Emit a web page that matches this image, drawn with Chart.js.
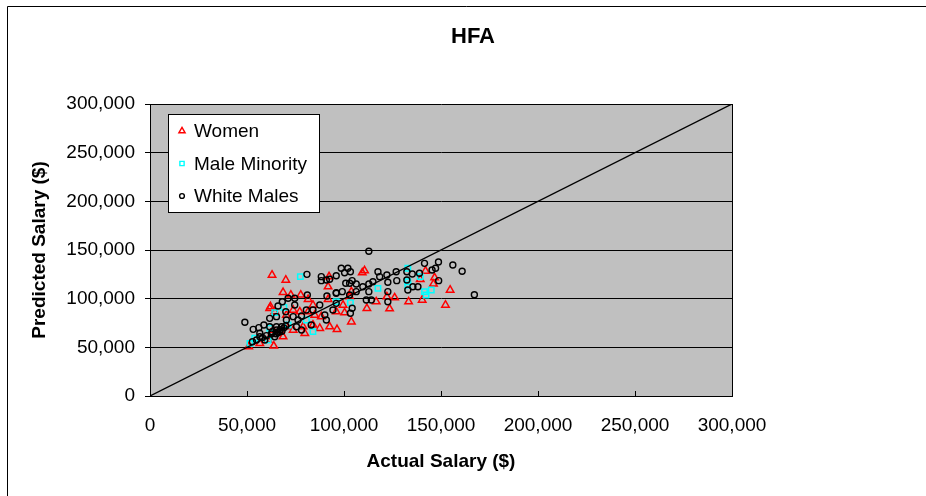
<!DOCTYPE html>
<html>
<head>
<meta charset="utf-8">
<script src="https://cdn.jsdelivr.net/npm/chart.js@4.4.0/dist/chart.umd.min.js"></script>
<style>
  html, body { margin: 0; padding: 0; background: #fff; }
</style>
</head>
<body>
<canvas id="grafica-hfa" width="926" height="496"></canvas>
<script>
// [actual salary, predicted salary]
const women = [
  [62900,124300],[70000,119200],[68600,106500],[72600,103800],[77700,103800],[81500,99300],
  [92300,122600],[91800,112300],[91800,99300],[61700,90000],[64300,86600],[70300,83200],
  [73800,88300],[77200,86600],[81500,86600],[84000,93500],[84900,83200],[70300,71200],
  [73800,67800],[78900,71200],[79800,64400],[87500,69600],[92600,71200],[88300,81500],
  [96000,86600],[60900,57500],[63800,51400],[50900,50700],[56600,54100],[62100,91800],
  [63400,67800],[68600,60900],[84000,73000],[110600,128800],[109400,126700],[142000,128400],
  [139300,119900],[146700,121600],[146100,115100],[154700,108900],[152300,93500],[140300,98600],
  [133300,96900],[126100,101000],[123500,89700],[122100,102000],[116600,96900],[111800,90100],
  [103800,107200],[103800,76300],[100300,85600],[96400,68500],[102900,102000],[99500,93500]
];
const maleMinority = [
  [77500,122600],[64300,85600],[69000,91100],[84000,66100],[80600,78100],[61700,69600],
  [51500,54100],[54000,59300],[96000,96900],[132900,131200],[132900,117400],[139300,122600],
  [141500,107200],[145000,108900],[142300,103800],[117500,110600],[103300,95900],[132900,114000],
  [71200,72900],[60900,57500]
];
const whiteMales = [
  [48900,75700],[53200,68500],[56100,70200],[58700,72900],[56600,64400],[54900,57500],
  [52800,55800],[59200,57500],[61700,79800],[61700,71200],[65200,81500],[66000,92500],
  [68200,96900],[71200,100400],[74600,100400],[74600,93500],[70000,86600],[70300,78100],
  [65200,67800],[66900,66100],[64300,60900],[62600,63700],[67800,71200],[73800,81500],
  [76300,78100],[78100,82200],[80600,88300],[81100,103800],[80900,125000],[88300,122600],
  [88300,118500],[90900,119200],[96000,123600],[91200,102700],[96000,106100],[94300,88300],
  [90100,83200],[90900,78100],[83100,72900],[87500,93500],[84000,88300],[78100,67800],
  [75500,71200],[56600,60900],[65200,71200],[66000,65000],[67000,68000],[68000,66500],
  [65000,64000],[69000,70000],[70000,72000],[63000,66000],[60000,62000],[58000,60000],
  [112800,148700],[167200,104100],[160900,128100],[156100,134600],[148700,137700],[147200,131200],
  [141500,136300],[145400,129500],[148800,118500],[138900,126100],[138100,112300],[135500,112300],
  [135200,125300],[132400,127700],[132400,119200],[132900,108900],[126900,127700],[127200,118500],
  [122100,124300],[122600,116800],[122600,107200],[122600,96900],[117500,127700],[118400,122600],
  [114900,117400],[112800,115100],[112800,107200],[111500,98600],[114100,98600],[109700,112300],
  [102900,115800],[106300,115100],[104200,118500],[102000,131200],[100300,126700],[103300,127700],
  [98600,131200],[100900,115800],[99100,107200],[96000,105500],[102900,103800],[104200,90100],
  [103300,85000],[92600,119900],[96000,95200],[106300,107200]
];
const referenceLine = [[0,0],[300000,300000]];
const axisMin = 0;
const axisMax = 300000;
const axisStep = 50000;

const toPoints = arr => arr.map(p => ({ x: p[0], y: p[1] }));
const fontFamily = '"Liberation Sans", Arial, sans-serif';

Chart.defaults.color = '#000';
Chart.defaults.font.family = fontFamily;

// fondo gris del área de trazado y marco exterior
const fondo = {
  id: 'fondo',
  beforeDraw(chart) {
    const { ctx, chartArea: a } = chart;
    ctx.save();
    ctx.fillStyle = '#fff';
    ctx.fillRect(0, 0, chart.width, chart.height);
    ctx.fillStyle = '#C0C0C0';
    ctx.fillRect(a.left, a.top, a.right - a.left, a.bottom - a.top);
    ctx.strokeStyle = '#000';
    ctx.lineWidth = 1;
    ctx.beginPath();
    ctx.moveTo(7.5, chart.height);
    ctx.lineTo(7.5, 6.5);
    ctx.lineTo(chart.width, 6.5);
    ctx.stroke();
    ctx.restore();
  },
  afterDatasetsDraw(chart) {
    const { ctx, chartArea: a, scales } = chart;
    ctx.save();
    ctx.strokeStyle = '#000';
    ctx.lineWidth = 1;
    ctx.beginPath();
    const r = Math.round(a.right) + 0.5;
    ctx.moveTo(r, a.top);
    ctx.lineTo(r, a.bottom);
    // marcas del eje x hacia dentro
    scales.x.ticks.forEach(t => {
      if (t.value === axisMin || t.value === axisMax) return;
      const px = Math.round(scales.x.getPixelForValue(t.value)) + 0.5;
      ctx.moveTo(px, a.bottom);
      ctx.lineTo(px, a.bottom - 5);
    });
    ctx.stroke();
    ctx.restore();
  }
};

// leyenda dentro del área de trazado
const leyendaInterna = {
  id: 'leyendaInterna',
  afterDraw(chart) {
    const ctx = chart.ctx;
    const bx = 168, by = 114, bw = 151, bh = 98;
    ctx.save();
    ctx.fillStyle = '#fff';
    ctx.fillRect(bx, by, bw, bh);
    ctx.strokeStyle = '#000';
    ctx.lineWidth = 1;
    ctx.strokeRect(bx + 0.5, by + 0.5, bw, bh);
    const sizes = { triangle: 3.6, rect: 3, circle: 2.4 };
    chart.data.datasets.filter(d => d.label).forEach((d, i) => {
      const cy = 131 + i * 32.5;
      ctx.fillStyle = 'rgba(0,0,0,0)';
      ctx.strokeStyle = d.borderColor;
      ctx.lineWidth = 1.4;
      Chart.helpers.drawPoint(ctx, { pointStyle: d.pointStyle, radius: sizes[d.pointStyle], borderWidth: 1.4, rotation: 0 }, 182, cy);
      ctx.fillStyle = '#000';
      ctx.font = '19px ' + fontFamily;
      ctx.textBaseline = 'middle';
      ctx.textAlign = 'left';
      ctx.fillText(d.label, 194, cy + 1);
    });
    ctx.restore();
  }
};

const ctx = document.getElementById('grafica-hfa').getContext('2d');
new Chart(ctx, {
  type: 'scatter',
  data: {
    datasets: [
      {
        label: 'Women',
        data: toPoints(women),
        pointStyle: 'triangle',
        pointRadius: 4.3,
        borderColor: '#FF0000',
        backgroundColor: 'rgba(0,0,0,0)',
        pointBorderWidth: 1.5,
        order: 3
      },
      {
        label: 'Male Minority',
        data: toPoints(maleMinority),
        pointStyle: 'rect',
        pointRadius: 3.8,
        borderColor: '#00FFFF',
        backgroundColor: 'rgba(0,0,0,0)',
        pointBorderWidth: 1.5,
        order: 2
      },
      {
        label: 'White Males',
        data: toPoints(whiteMales),
        pointStyle: 'circle',
        pointRadius: 3,
        borderColor: '#000000',
        backgroundColor: 'rgba(0,0,0,0)',
        pointBorderWidth: 1.4,
        order: 1
      },
      {
        type: 'line',
        data: toPoints(referenceLine),
        borderColor: '#000',
        borderWidth: 1.3,
        pointRadius: 0,
        fill: false,
        order: 0
      }
    ]
  },
  options: {
    responsive: false,
    animation: false,
    layout: { padding: { left: 20, right: 0, top: 0, bottom: 0 } },
    plugins: {
      legend: { display: false },
      tooltip: { enabled: false },
      title: {
        display: true,
        text: 'HFA',
        color: '#000',
        font: { size: 22, weight: 'bold', family: fontFamily },
        padding: { top: 24, bottom: 53.6 }
      }
    },
    scales: {
      x: {
        type: 'linear',
        min: axisMin,
        max: axisMax,
        ticks: {
          stepSize: axisStep,
          maxRotation: 0,
          padding: 18,
          color: '#000',
          font: { size: 19, family: fontFamily },
          callback: v => v.toLocaleString('en-US')
        },
        grid: { drawOnChartArea: false, drawTicks: false },
        border: { color: '#000', width: 1 },
        title: {
          display: true,
          text: 'Actual Salary ($)',
          color: '#000',
          font: { size: 19, weight: 'bold', family: fontFamily },
          padding: { top: 0, bottom: 22.6 }
        },
        afterFit: s => { s.height = 100; }
      },
      y: {
        min: axisMin,
        max: axisMax,
        ticks: {
          stepSize: axisStep,
          padding: 10,
          color: '#000',
          font: { size: 19, family: fontFamily },
          callback: v => v.toLocaleString('en-US')
        },
        grid: { color: '#000', lineWidth: 1, tickLength: 5 },
        border: { color: '#000', width: 1 },
        title: {
          display: true,
          text: 'Predicted Salary ($)',
          color: '#000',
          font: { size: 19, weight: 'bold', family: fontFamily },
          padding: { top: 8, bottom: 0 }
        },
        afterFit: s => { s.width = 130; }
      },
      // espacio en blanco a la derecha del área de trazado
      margen: {
        type: 'linear',
        position: 'right',
        display: true,
        ticks: { display: false },
        grid: { display: false, drawTicks: false },
        border: { display: false },
        afterFit: s => { s.width = 194; }
      }
    }
  },
  plugins: [fondo, leyendaInterna]
});
</script>
</body>
</html>
